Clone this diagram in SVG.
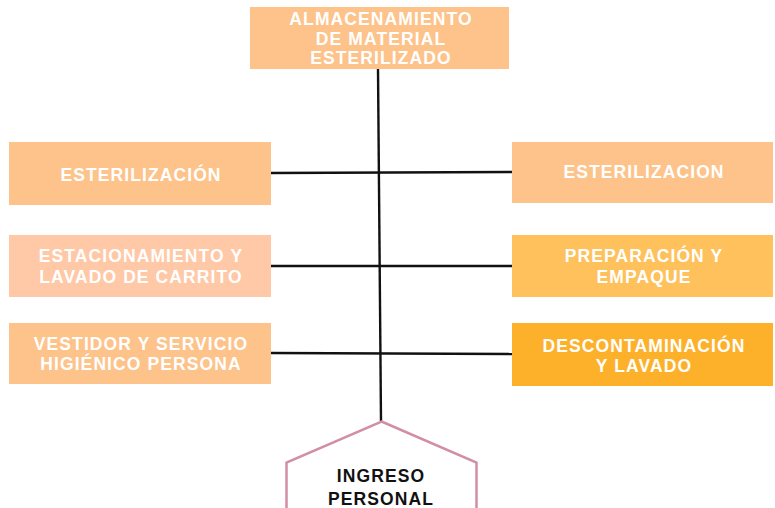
<svg xmlns="http://www.w3.org/2000/svg" width="775" height="508" viewBox="0 0 775 508">
<style>
.lbl{font-family:"Liberation Sans",Arial,sans-serif;font-weight:bold;font-size:17.5px;fill:#fff;text-anchor:middle;letter-spacing:1.1px}
.dark{fill:#111}
.conn{stroke:#111;stroke-width:2.4;fill:none}
</style>
<rect width="775" height="508" fill="#fff"/>
<g id="connectors">
<line class="conn" x1="378" y1="69" x2="381" y2="421"/>
<line class="conn" x1="271" y1="173" x2="512" y2="172"/>
<line class="conn" x1="271" y1="266" x2="512" y2="266"/>
<line class="conn" x1="271" y1="353" x2="512" y2="354"/>
</g>
<g id="almacenamiento">
<rect x="250" y="7" width="259" height="62" fill="#FDC38A"/>
<text class="lbl" x="381" y="25">ALMACENAMIENTO</text>
<text class="lbl" x="381" y="45">DE MATERIAL</text>
<text class="lbl" x="381" y="64">ESTERILIZADO</text>
</g>
<g id="esterilizacion-left">
<rect x="9" y="142" width="262" height="63" fill="#FDC38A"/>
<text class="lbl" x="141" y="181">ESTERILIZACIÓN</text>
</g>
<g id="estacionamiento">
<rect x="9" y="235" width="262" height="62" fill="#FFC8A6"/>
<text class="lbl" x="141" y="262">ESTACIONAMIENTO Y</text>
<text class="lbl" x="141" y="283">LAVADO DE CARRITO</text>
</g>
<g id="vestidor">
<rect x="9" y="323" width="262" height="61" fill="#FDC38A"/>
<text class="lbl" x="141" y="350">VESTIDOR Y SERVICIO</text>
<text class="lbl" x="141" y="370">HIGIÉNICO PERSONA</text>
</g>
<g id="esterilizacion-right">
<rect x="512" y="142" width="261" height="61" fill="#FDC38A"/>
<text class="lbl" x="644" y="178">ESTERILIZACION</text>
</g>
<g id="preparacion">
<rect x="512" y="235" width="261" height="62" fill="#FEC15C"/>
<text class="lbl" x="644" y="262">PREPARACIÓN Y</text>
<text class="lbl" x="644" y="283">EMPAQUE</text>
</g>
<g id="descontaminacion">
<rect x="512" y="323" width="261" height="63" fill="#FDB12B"/>
<text class="lbl" x="644" y="352">DESCONTAMINACIÓN</text>
<text class="lbl" x="644" y="372">Y LAVADO</text>
</g>
<g id="ingreso">
<polygon points="381.5,421.5 476.5,462.5 476.5,510 286.5,510 286.5,462.5" fill="#fff" stroke="#D18FA3" stroke-width="2.5"/>
<text class="lbl dark" x="381" y="482">INGRESO</text>
<text class="lbl dark" x="381" y="505">PERSONAL</text>
</g>
</svg>
